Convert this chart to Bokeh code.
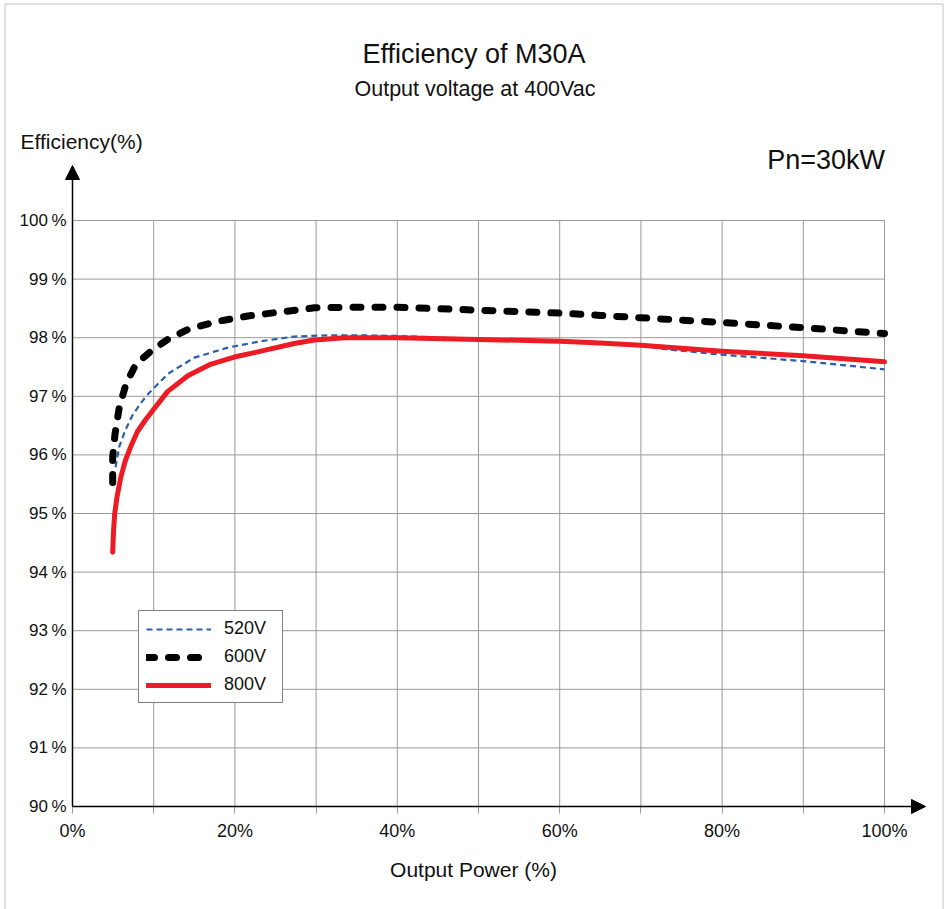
from bokeh.plotting import figure
from bokeh.models import (ColumnDataSource, Range1d, FixedTicker, Label, Arrow,
                          NormalHead, Legend, LegendItem, PolyAnnotation)
from bokeh.embed import file_html
from bokeh.resources import INLINE

# ---------------- data ----------------
x_520 = [5.3, 5.76, 6.5, 7.4, 8.5, 9.46, 11.72, 15.0, 19.1, 23.2, 27.3, 31.4, 35.5, 40, 50, 60, 70, 73.3, 80, 90, 100]
y_520 = [95.79, 96.14, 96.42, 96.68, 96.90, 97.06, 97.38, 97.66, 97.83, 97.94, 98.02, 98.04, 98.04, 98.03, 97.98, 97.94, 97.86, 97.80, 97.71, 97.60, 97.46]

x_600 = [4.95, 4.95, 5.23, 5.76, 6.59, 7.82, 9.67, 11.72, 14.19, 17.9, 21.6, 25.7, 29.8, 34.7, 40, 50, 60, 65, 70, 80, 90, 100]
y_600 = [95.53, 95.96, 96.35, 96.81, 97.21, 97.55, 97.77, 97.97, 98.14, 98.28, 98.37, 98.44, 98.51, 98.52, 98.52, 98.47, 98.42, 98.38, 98.34, 98.26, 98.17, 98.07]

x_800 = [4.95, 5.05, 5.2, 5.5, 5.95, 6.5, 7.2, 8.0, 9.0, 10.0, 11.7, 14.2, 17.06, 19.93, 23.2, 27.3, 29.8, 33.5, 40, 50, 60, 65, 70, 80, 90, 100]
y_800 = [94.34, 94.70, 95.00, 95.30, 95.62, 95.90, 96.15, 96.40, 96.60, 96.78, 97.08, 97.35, 97.55, 97.67, 97.77, 97.90, 97.96, 98.00, 98.00, 97.97, 97.94, 97.91, 97.87, 97.77, 97.69, 97.59]

series_names = ["520V", "600V", "800V"]

x_ticks = [0, 20, 40, 60, 80, 100]
x_tick_labels = ["0%", "20%", "40%", "60%", "80%", "100%"]
x_minor = [10, 30, 50, 70, 90]
x_grid = [10, 20, 30, 40, 50, 60, 70, 80, 90, 100]
y_ticks = [90, 91, 92, 93, 94, 95, 96, 97, 98, 99, 100]
y_tick_labels = ["90\u2009%", "91\u2009%", "92\u2009%", "93\u2009%", "94\u2009%", "95\u2009%",
                 "96\u2009%", "97\u2009%", "98\u2009%", "99\u2009%", "100\u2009%"]
y_grid = [91, 92, 93, 94, 95, 96, 97, 98, 99, 100]

title_text = "Efficiency of M30A"
subtitle_text = "Output voltage at 400Vac"
y_title = "Efficiency(%)"
x_title = "Output Power (%)"
note_text = "Pn=30kW"

# ---------------- layout ----------------
FONT = "Liberation Sans"
W, H = 946, 909
FL, FR, FT, FB = 72, 884, 220, 806  # chart area edges in canvas px
SX = (FR - FL) / 100.0
SY = (FB - FT) / 10.0


def dx(px):
    return (px - FL) / SX


def dy(py):
    return 90 + (FB - py) / SY


p = figure(width=W, height=H, output_backend="svg", toolbar_location=None,
           x_range=Range1d(dx(0), dx(W)), y_range=Range1d(dy(H), dy(0)),
           min_border=0, min_border_left=0, min_border_right=0,
           min_border_top=0, min_border_bottom=0)
p.outline_line_color = None
p.background_fill_color = "white"
p.border_fill_color = "white"
p.grid.visible = False

# grid lines of the chart area
p.segment(x0=x_grid, y0=[90] * len(x_grid), x1=x_grid, y1=[100] * len(x_grid),
          line_color="#9a9a9a", line_width=1)
p.segment(x0=[0] * len(y_grid), y0=y_grid, x1=[100] * len(y_grid), y1=y_grid,
          line_color="#9a9a9a", line_width=1)

# axes, fixed at the chart origin
xa = p.xaxis[0]
xa.fixed_location = 90
xa.ticker = FixedTicker(ticks=x_ticks, minor_ticks=x_minor)
xa.major_label_overrides = {t: l for t, l in zip(x_ticks, x_tick_labels)}
xa.axis_line_color = None
xa.major_tick_in = 0
xa.major_tick_out = 7
xa.minor_tick_in = 0
xa.minor_tick_out = 7
xa.major_tick_line_color = "#9a9a9a"
xa.minor_tick_line_color = "#9a9a9a"
xa.major_label_standoff = 7
xa.major_label_text_font = FONT
xa.major_label_text_font_size = "18px"
xa.major_label_text_color = "#111111"
xa.axis_label = x_title
xa.axis_label_text_font = FONT
xa.axis_label_text_font_size = "21px"
xa.axis_label_text_font_style = "normal"
xa.axis_label_text_color = "#111111"
xa.axis_label_standoff = 14

ya = p.yaxis[0]
ya.fixed_location = 0
ya.ticker = FixedTicker(ticks=y_ticks)
ya.major_label_overrides = {t: l for t, l in zip(y_ticks, y_tick_labels)}
ya.axis_line_color = None
ya.major_tick_in = 0
ya.major_tick_out = 0
ya.minor_tick_line_color = None
ya.major_label_standoff = 6
ya.major_label_text_font = FONT
ya.major_label_text_font_size = "17px"
ya.major_label_text_color = "#111111"

# series
src520 = ColumnDataSource(dict(x=x_520, y=y_520))
src600 = ColumnDataSource(dict(x=x_600, y=y_600))
src800 = ColumnDataSource(dict(x=x_800, y=y_800))

r520 = p.line("x", "y", source=src520, line_color="#2b5fae", line_width=2.2, line_dash="6 4")
r600 = p.line("x", "y", source=src600, line_color="black", line_width=7, line_dash="8 14",
              line_cap="round", line_join="round")
r800 = p.line("x", "y", source=src800, line_color="#ed1c24", line_width=5,
              line_cap="round", line_join="round")

legend = Legend(items=[LegendItem(label=series_names[0], renderers=[r520]),
                       LegendItem(label=series_names[1], renderers=[r600]),
                       LegendItem(label=series_names[2], renderers=[r800])],
                location=(138, H - 703), margin=0, padding=7, spacing=7,
                glyph_width=65, glyph_height=20, label_standoff=13, label_width=51,
                label_text_font=FONT, label_text_font_size="18px",
                label_text_color="#111111",
                border_line_color="black", border_line_width=1,
                background_fill_color="white", background_fill_alpha=1.0)
p.add_layout(legend)

# axis arrows
p.add_layout(Arrow(x_start=0, y_start=90, x_end=dx(925), y_end=90,
                   line_color="black", line_width=1.5,
                   end=NormalHead(size=14, fill_color="black", line_color="black")))
p.add_layout(Arrow(x_start=0, y_start=90, x_end=0, y_end=dy(165),
                   line_color="black", line_width=1.5,
                   end=NormalHead(size=14, fill_color="black", line_color="black")))

# outer frame of the picture
p.add_layout(PolyAnnotation(xs=[dx(4.5), dx(4.5), dx(942.5), dx(942.5)],
                            ys=[dy(920), dy(3.5), dy(3.5), dy(920)],
                            fill_color=None, fill_alpha=0,
                            line_color="#333333", line_width=1))


# texts (py is the wanted baseline; shift compensates the label box offset)
def add_text(txt, px, py, size, align):
    p.add_layout(Label(x=dx(px), y=dy(py - 0.38 * size), text=txt, text_font=FONT,
                       text_font_size=f"{size}px", text_align=align,
                       text_baseline="alphabetic", text_color="#111111"))


add_text(title_text, 473.5, 64, 27, "center")
add_text(subtitle_text, 474.5, 97, 21.5, "center")
add_text(y_title, 20, 149, 21, "left")
add_text(note_text, 884.5, 170, 27, "right")

open("out.html", "w").write(file_html(p, INLINE))
